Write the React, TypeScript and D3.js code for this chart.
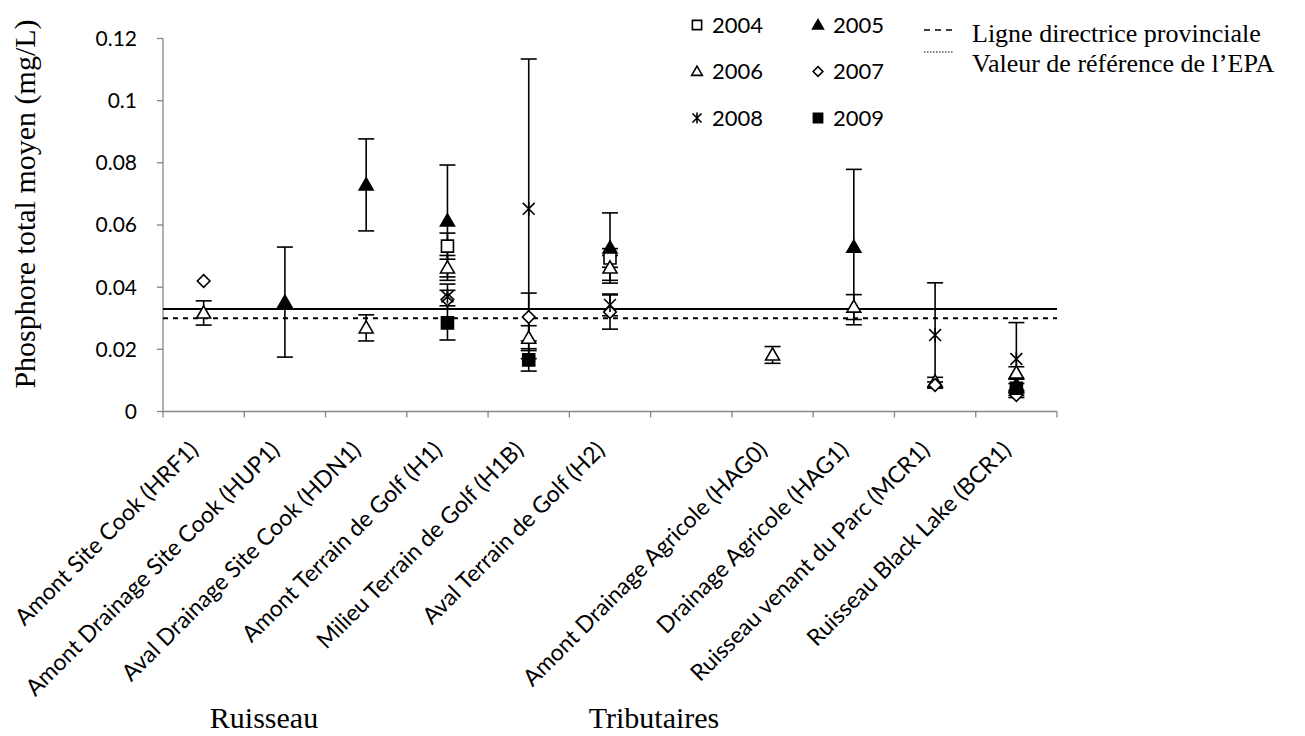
import React from 'react';
import * as d3 from 'd3';

// sites (the 7th slot is an empty gap between the two groups)
const categories = [
  'Amont Site Cook (HRF1)',
  'Amont Drainage Site Cook (HUP1)',
  'Aval Drainage Site Cook (HDN1)',
  'Amont Terrain de Golf (H1)',
  'Milieu Terrain de Golf (H1B)',
  'Aval Terrain de Golf (H2)',
  '',
  'Amont Drainage Agricole (HAG0)',
  'Drainage Agricole (HAG1)',
  'Ruisseau venant du Parc (MCR1)',
  'Ruisseau Black Lake (BCR1)',
];

const years = ['2004', '2005', '2006', '2007', '2008', '2009'];

const values2004 = [null, null, null, 0.0532, null, 0.0494, null, null, null, null, null];
const err2004 = [0, 0, 0, 0.0042, 0, 0.003, 0, 0, 0, 0, 0];
const values2005 = [null, 0.0352, 0.0729, 0.0613, null, 0.0526, null, null, 0.0529, null, 0.0085];
const err2005 = [0, 0.0177, 0.0148, 0.018, 0, 0.0113, 0, 0, 0.025, 0, 0.002];
const values2006 = [0.0317, null, 0.0269, 0.0462, 0.0236, 0.0462, null, 0.0182, 0.0336, 0.0095, 0.0124];
const err2006 = [0.0039, 0, 0.0042, 0.004, 0.004, 0.004, 0, 0.0027, 0.004, 0.0015, 0.002];
const values2007 = [0.042, null, null, 0.036, 0.0304, 0.032, null, null, null, 0.0085, 0.0053];
const err2007 = [0, 0, 0, 0.003, 0.0077, 0.0055, 0, 0, 0, 0.001, 0.0008];
const values2008 = [null, null, null, 0.037, 0.0652, 0.0343, null, null, null, 0.0246, 0.0169];
const err2008 = [0, 0, 0, 0.004, 0.0482, 0.0035, 0, 0, 0, 0.0168, 0.0117];
const values2009 = [null, null, null, 0.0285, 0.0166, null, null, null, null, null, 0.0075];
const err2009 = [0, 0, 0, 0.0055, 0.0036, 0, 0, 0, 0, 0, 0.0015];

const yTicks = [0, 0.02, 0.04, 0.06, 0.08, 0.1, 0.12];

const guideLabels = ['Ligne directrice provinciale', 'Valeur de référence de l’EPA'];
const guideValues = [0.033, 0.030];

const groupLabels = ['Ruisseau', 'Tributaires'];

const SANS = 'Lato, "Open Sans", sans-serif';
const SERIF = '"Liberation Serif", "Times New Roman", serif';

const W = 1305, H = 736;
const left = 163, right = 1057, top = 38.5, bottom = 411.5;

// marker kinds per year
const markerKind = ['squareOpen', 'triFilled', 'triOpen', 'diamond', 'star', 'squareFilled'];

const markerPath = (kind: string, s: number) => {
  if (kind === 'squareOpen' || kind === 'squareFilled') return d3.symbol(d3.symbolSquare, s * s * 0.85)();
  if (kind === 'triOpen' || kind === 'triFilled') return d3.symbol(d3.symbolTriangle, s * s * 0.5)();
  if (kind === 'diamond') return d3.symbol(d3.symbolDiamond2, s * s * 0.6)();
  const r = s / 2.2;
  return `M${-r},${-r}L${r},${r}M${-r},${r}L${r},${-r}M0,${-r * 1.2}L0,${r * 1.2}`;
};

const Marker = ({ kind, x, y, s }: { kind: string; x: number; y: number; s: number }) => {
  const filled = kind === 'triFilled' || kind === 'squareFilled';
  const dy = kind.startsWith('tri') ? s * 0.08 : 0;
  return (
    <path
      d={markerPath(kind, s) as string}
      transform={`translate(${x},${y + dy})`}
      fill={kind === 'star' ? 'none' : filled ? '#000' : '#fff'}
      stroke="#000"
      strokeWidth={1.6}
    />
  );
};

export default function App() {
  const x = d3.scaleBand<number>().domain(d3.range(categories.length)).range([left, right]);
  const y = d3.scaleLinear().domain([0, 0.12]).range([bottom, top]);
  const bw = x.bandwidth();
  const cx = (i: number) => (x(i) as number) + bw / 2;

  const series = [
    { v: values2004, e: err2004 },
    { v: values2005, e: err2005 },
    { v: values2006, e: err2006 },
    { v: values2007, e: err2007 },
    { v: values2008, e: err2008 },
    { v: values2009, e: err2009 },
  ];

  const capW = 8;
  const axisColor = '#868686';

  return (
    <svg width={W} height={H} style={{ position: 'absolute', left: 0, top: 0, background: '#fff' }}>
      {/* axes */}
      <line x1={left} x2={left} y1={top} y2={bottom} stroke={axisColor} strokeWidth={1.3} />
      {yTicks.map(t => (
        <g key={t}>
          <line x1={left - 6} x2={left} y1={y(t)} y2={y(t)} stroke={axisColor} strokeWidth={1.3} />
          <text x={137} y={y(t)} dy="0.35em" textAnchor="end" fontFamily={SANS} fontSize={21}>
            {String(+t.toFixed(2))}
          </text>
        </g>
      ))}
      <line x1={left} x2={right} y1={bottom} y2={bottom} stroke={axisColor} strokeWidth={1.3} />
      {d3.range(categories.length + 1).map(i => {
        const tx = i < categories.length ? (x(i) as number) : right;
        return <line key={i} x1={tx} x2={tx} y1={bottom} y2={bottom + 6} stroke={axisColor} strokeWidth={1.3} />;
      })}
      {categories.map((c, i) => (
        <text
          key={i}
          transform={`translate(${cx(i) - 4},${bottom + 40}) rotate(-45)`}
          textAnchor="end"
          fontFamily={SANS}
          fontSize={23}
        >
          {c}
        </text>
      ))}

      {/* guide lines */}
      <line x1={left} x2={right} y1={y(guideValues[0])} y2={y(guideValues[0])} stroke="#000" strokeWidth={2} />
      <line x1={left} x2={right} y1={y(guideValues[1])} y2={y(guideValues[1])} stroke="#000" strokeWidth={2} strokeDasharray="5,5" />

      {/* error bars */}
      {series.map((s, k) =>
        s.v.map((v, i) => {
          if (v == null || !s.e[i]) return null;
          const y1 = y(v + s.e[i]), y2 = y(v - s.e[i]);
          return (
            <g key={`e${k}-${i}`} stroke="#000" strokeWidth={1.6}>
              <line x1={cx(i)} x2={cx(i)} y1={y1} y2={y2} />
              <line x1={cx(i) - capW} x2={cx(i) + capW} y1={y1} y2={y1} />
              <line x1={cx(i) - capW} x2={cx(i) + capW} y1={y2} y2={y2} />
            </g>
          );
        })
      )}

      {/* markers */}
      {series.map((s, k) =>
        s.v.map((v, i) =>
          v == null ? null : <Marker key={`m${k}-${i}`} kind={markerKind[k]} x={cx(i)} y={y(v)} s={13} />
        )
      )}

      {/* legend years */}
      {years.map((yr, k) => {
        const col = k % 2, row = Math.floor(k / 2);
        const lx = col === 0 ? 697 : 818;
        const ly = 25 + row * 46.5;
        return (
          <g key={yr}>
            <Marker kind={markerKind[k]} x={lx} y={ly} s={10} />
            <text x={lx + 15} y={ly} dy="0.35em" fontFamily={SANS} fontSize={22}>{yr}</text>
          </g>
        );
      })}

      {/* legend guide lines */}
      <line x1={924} x2={953} y1={30} y2={30} stroke="#000" strokeWidth={1.3} strokeDasharray="6,5" />
      <line x1={924} x2={953} y1={52} y2={52} stroke="#000" strokeWidth={1.2} strokeDasharray="1.5,1.5" />
      <text x={972} y={42} fontFamily={SERIF} fontSize={26}>{guideLabels[0]}</text>
      <text x={972} y={72} fontFamily={SERIF} fontSize={26}>{guideLabels[1]}</text>

      {/* axis title and group labels */}
      <text
        transform={`translate(35,204) rotate(-90)`}
        textAnchor="middle"
        fontFamily={SERIF}
        fontSize={30}
      >
        Phosphore total moyen (mg/L)
      </text>
      <text x={264} y={728} textAnchor="middle" fontFamily={SERIF} fontSize={30}>{groupLabels[0]}</text>
      <text x={654} y={728} textAnchor="middle" fontFamily={SERIF} fontSize={30}>{groupLabels[1]}</text>
    </svg>
  );
}
